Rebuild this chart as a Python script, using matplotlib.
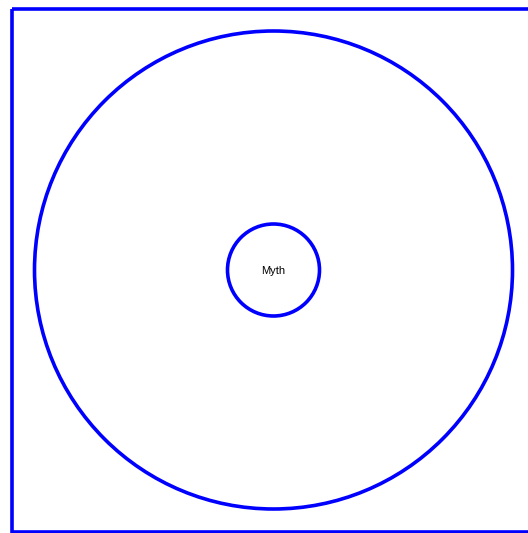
import matplotlib
matplotlib.use("Agg")
from matplotlib import pyplot as plt
from matplotlib.patches import Circle, Rectangle

# pack layout (pixel units of the 528x533 canvas)
frame = [11.5, 8.5, 524, 523]      # x, y, width, height
centre = (273.5, 270)
radii = [239, 46]                  # root, child
labels = ["", "Myth"]

W, H = 528, 533
fig = plt.figure(figsize=(W / 100, H / 100), dpi=100)
ax = fig.add_axes([0, 0, 1, 1])
ax.set_xlim(0, W)
ax.set_ylim(H, 0)
ax.axis("off")

ax.add_patch(Rectangle((frame[0], frame[1]), frame[2], frame[3],
                       fill=False, edgecolor="blue", lw=2.6))

for r, lab in zip(radii, labels):
    ax.add_patch(Circle(centre, r, fill=False, edgecolor="blue", lw=2.6))
    if lab:
        ax.text(centre[0], centre[1] + 1, lab, ha="center", va="center",
                fontsize=8, family="Liberation Sans", color="black")

fig.savefig("out.png", dpi=100)
